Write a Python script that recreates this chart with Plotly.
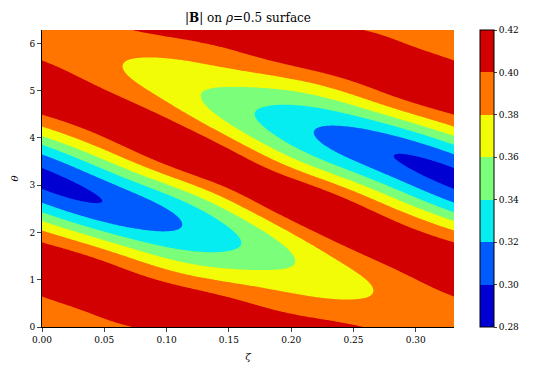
import numpy as np
import plotly.graph_objects as go

NFP = 19
# |B| Fourier modes, cos(m*theta - n*NFP*zeta), estimated from the contours in the picture
mode_m = [0, 0, 0, 1, 1, 1, 1, 1, 1, 2, 2, 2, 2, 2, 2, 3, 3, 3, 3, 3, 3, 4, 4, 4, 4, 4, 4]
mode_n = [0, 1, 2, -3, -2, -1, 0, 1, 2, -3, -2, -1, 0, 1, 2, -3, -2, -1, 0, 1, 2, -3, -2, -1, 0, 1, 2]
mode_B = [0.3778, -0.0012, -0.0004, -0.0001, 0.0000, 0.0204, 0.0234, -0.0008, 0.0008,
          0.0001, 0.0007, -0.0350, 0.0003, 0.0006, -0.0006,
          0.0010, -0.0006, 0.0045, -0.0002, -0.0003, -0.0004,
          -0.0010, 0.0005, 0.0003, 0.0004, 0.0006, -0.0004]
levels = [0.28, 0.30, 0.32, 0.34, 0.36, 0.38, 0.40, 0.42]
band_colors = ['#0000d2', '#005bff', '#06edf1', '#7bff7b', '#f1fc06', '#ff7500', '#d20000']
x_ticks = [0.00, 0.05, 0.10, 0.15, 0.20, 0.25, 0.30]
y_ticks = [0, 1, 2, 3, 4, 5, 6]

mm = np.array(mode_m); nn = np.array(mode_n); bb = np.array(mode_B)
zeta = np.linspace(0, 2*np.pi/NFP, 300)
theta = np.linspace(0, 2*np.pi, 400)
Z = np.cos(theta[:, None, None]*mm[None, None, :] - (zeta*NFP)[None, :, None]*nn[None, None, :]) @ bb

nb = len(band_colors)
step = levels[1] - levels[0]
# interior contour lines only; plotly colours bands at scale positions 0, 1/6, ..., 1
nfill = nb - 1
fill_cs = []
for j, c in enumerate(band_colors):
    lo = 0.0 if j == 0 else (j - 0.5) / nfill
    hi = 1.0 if j == nb - 1 else (j + 0.5) / nfill
    fill_cs.append([lo, c]); fill_cs.append([hi, c])
# stepped scale for the colour bar, levels[0] .. levels[-1]
bar_cs = []
for j, c in enumerate(band_colors):
    bar_cs.append([j / nb, c]); bar_cs.append([(j + 1) / nb, c])

serif = 'DejaVu Serif'
fig = go.Figure()
fig.add_trace(go.Contour(
    x=zeta, y=theta, z=Z, colorscale=fill_cs, autocontour=False, showscale=False,
    contours=dict(start=levels[1], end=levels[-2], size=step, coloring='fill', showlines=False),
    line=dict(width=0), hoverinfo='skip'))
fig.add_trace(go.Scatter(
    x=[None], y=[None], mode='markers', showlegend=False, hoverinfo='skip',
    marker=dict(color=[levels[0]], cmin=levels[0], cmax=levels[-1], colorscale=bar_cs, showscale=True,
                colorbar=dict(x=1.063, xanchor='left', thickness=14, len=1, y=0.5, yanchor='middle',
                              xpad=0, ypad=0,
                              outlinewidth=1, outlinecolor='black', ticks='outside', ticklen=3,
                              tickvals=levels, tickformat='.2f',
                              tickfont=dict(family=serif, size=9, color='black')))))
fig.update_layout(width=534, height=374, margin=dict(l=42, r=80, t=30, b=47, autoexpand=False),
                  paper_bgcolor='white', plot_bgcolor='white',
                  title=dict(text='|<b>B</b>| on <i>ρ</i>=0.5 surface', x=0.5, xref='paper', xanchor='center',
                             y=0.952, yref='container', yanchor='middle',
                             font=dict(family=serif, size=12, color='black')))
fig.update_xaxes(range=[0, 2*np.pi/NFP], tickvals=x_ticks, tickformat='.2f', automargin=False,
                 ticks='outside', ticklen=4, showline=True, linecolor='black', showgrid=False, zeroline=False,
                 tickfont=dict(family=serif, size=9, color='black'),
                 title=dict(text='<i>ζ</i>', font=dict(family=serif, size=10, color='black'), standoff=9))
fig.update_yaxes(range=[0, 2*np.pi], tickvals=y_ticks, automargin=False,
                 ticks='outside', ticklen=4, showline=True, linecolor='black', showgrid=False, zeroline=False,
                 tickfont=dict(family=serif, size=9, color='black'),
                 title=dict(text='<i>θ</i>', font=dict(family=serif, size=10, color='black'), standoff=8))
fig.write_html("out.html", config={'displayModeBar': False},
               post_script="document.body.style.margin='0px';")
